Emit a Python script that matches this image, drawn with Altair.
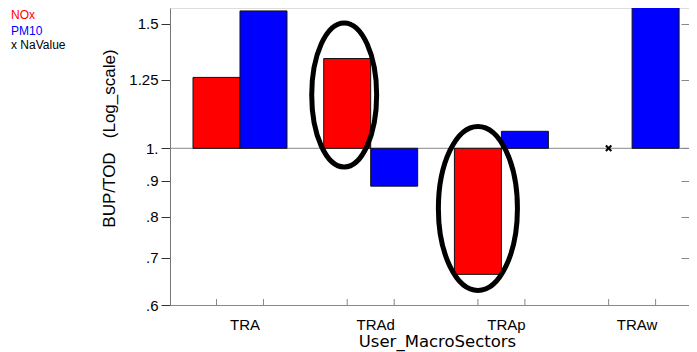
import altair as alt
import pandas as pd

# ---- data ----
sectors = ["TRA", "TRAd", "TRAp", "TRAw"]
nox = [1.26, 1.34, 0.663, None]       # TRAw NOx is a missing value (NaValue)
pm10 = [1.565, 0.884, 1.057, 1.75]
series = ["NOx", "PM10"]
series_colors = ["#ff0000", "#0000ff"]

y_ticks = [0.6, 0.7, 0.8, 0.9, 1.0, 1.25, 1.5]

# circled bars (annotations)
circled_sector = ["TRAd", "TRAp"]
circled_center = [1.19, 0.822]

rows = []
for s, a, b in zip(sectors, nox, pm10):
    rows.append({"sector": s, "series": "NOx", "value": a})
    rows.append({"sector": s, "series": "PM10", "value": b})
df = pd.DataFrame(rows)

W, H = 519, 297
FONT = "Liberation Sans"

yscale = alt.Scale(type="log", domain=[0.6, 1.58], nice=False, zero=False)
xscale = alt.Scale(paddingInner=0.281, paddingOuter=0.1259, align=0.699, round=False)
xaxis = alt.Axis(
    title="User_MacroSectors", ticks=False, tickSize=0, labelAngle=0,
    labelFontSize=15, labelFont=FONT, labelColor="black", labelBaseline="alphabetic",
    labelPadding=24, labelOffset=5,
    domainColor="#888888", titleFontSize=16.5, titleFont="DejaVu Sans",
    titleFontWeight="normal", titleColor="black", titleBaseline="alphabetic",
    titleY=41, titleX=267,
)
X = alt.X("sector:N", scale=xscale, axis=xaxis, sort=sectors)
XO = alt.XOffset("series:N", scale=alt.Scale(domain=series, paddingInner=0, paddingOuter=0, round=False))

base = alt.Chart(df)

label_expr = ("abs(datum.value - 1) < 1e-6 ? '1.' : (datum.value < 1 ? "
              "replace(format(datum.value, '.1f'), '0.', '.') : format(datum.value, ''))")

left_axis = alt.Axis(
    orient="left", values=y_ticks, labelExpr=label_expr, grid=False,
    tickSize=9, tickColor="#333333", domainColor="#777777",
    labelFontSize=15, labelFont=FONT, labelColor="black", labelPadding=3,
    title="BUP/TOD\u00a0\u00a0\u00a0(Log_scale)", titleFontSize=17, titleFont=FONT,
    titleFontWeight="normal", titleColor="black", titleBaseline="alphabetic",
    titleX=-56, titleY=130,
)
right_axis = alt.Axis(
    orient="right", values=y_ticks, labels=False, domain=False, grid=False,
    tickSize=8, tickColor="#888888", offset=-8, title=None,
)

baseline = alt.Chart(pd.DataFrame({"v": [1.0]})).mark_rule(
    color="#888888", strokeWidth=1
).encode(y=alt.Y("v:Q", scale=yscale, axis=right_axis))

bars = base.transform_filter("isValid(datum.value)").mark_bar(
    stroke="#111111", strokeWidth=1, clip=True
).encode(
    x=X, xOffset=XO,
    y=alt.Y("value:Q", scale=yscale, axis=left_axis),
    y2=alt.Y2(datum=1),
    color=alt.Color("series:N", scale=alt.Scale(domain=series, range=series_colors), legend=None),
)

namark = base.transform_filter("!isValid(datum.value)").mark_point(
    shape="M-1,-1L1,1M1,-1L-1,1", size=30, filled=False, strokeWidth=2,
    color="black", opacity=1
).encode(x=X, xOffset=XO, y=alt.Y(datum=1, scale=yscale, axis=None))

bottom_ticks = base.mark_tick(
    orient="vertical", size=6, thickness=1, color="#555555", yOffset=-3
).encode(x=X, xOffset=XO, y=alt.Y(datum=0.6, scale=yscale, axis=None))

ann = pd.DataFrame({"sector": circled_sector, "series": ["NOx", "NOx"], "c": circled_center})
k = 0.5523


def ellipse_path(a, dx=0.0):
    def p(x, y):
        return f"{x + dx:.4f},{y:.4f}"
    return (f"M{p(a, 0)} C{p(a, k)} {p(a*k, 1)} {p(0, 1)} C{p(-a*k, 1)} {p(-a, k)} {p(-a, 0)} "
            f"C{p(-a, -k)} {p(-a*k, -1)} {p(0, -1)} C{p(a*k, -1)} {p(a, -k)} {p(a, 0)} Z")


ell_layers = []
for i, (ratio, sz, dx) in enumerate([(0.451, 144 ** 2, -0.042), (0.482, 164 ** 2, 0.0)]):
    ell_layers.append(
        alt.Chart(ann.iloc[[i]]).mark_point(
            shape=ellipse_path(ratio, dx), size=sz, filled=False, stroke="black",
            strokeWidth=5, opacity=1
        ).encode(x=X, xOffset=XO, y=alt.Y("c:Q", scale=yscale, axis=None))
    )

legend_entries = [("NOx", "#ff0000", 11), ("PM10", "#0000ff", 26.5), ("x NaValue", "black", 40.5)]
legend_layers = []
for txt, col, yy in legend_entries:
    legend_layers.append(
        alt.Chart(pd.DataFrame({"t": [txt]})).mark_text(
            align="left", baseline="alphabetic", fontSize=12, font=FONT, color=col
        ).encode(text="t:N", x=alt.value(-159), y=alt.value(yy))
    )

chart = alt.layer(
    baseline, bars, *ell_layers, namark, bottom_ticks, *legend_layers
).resolve_axis(y="independent").properties(
    width=W, height=H,
    autosize=alt.AutoSizeParams(type="none"),
    padding={"left": 162, "top": 0, "right": 0, "bottom": 47},
).configure_view(stroke=None).configure(font=FONT, background="white")

chart.save("out.html", embed_options={"renderer": "svg", "actions": False})
